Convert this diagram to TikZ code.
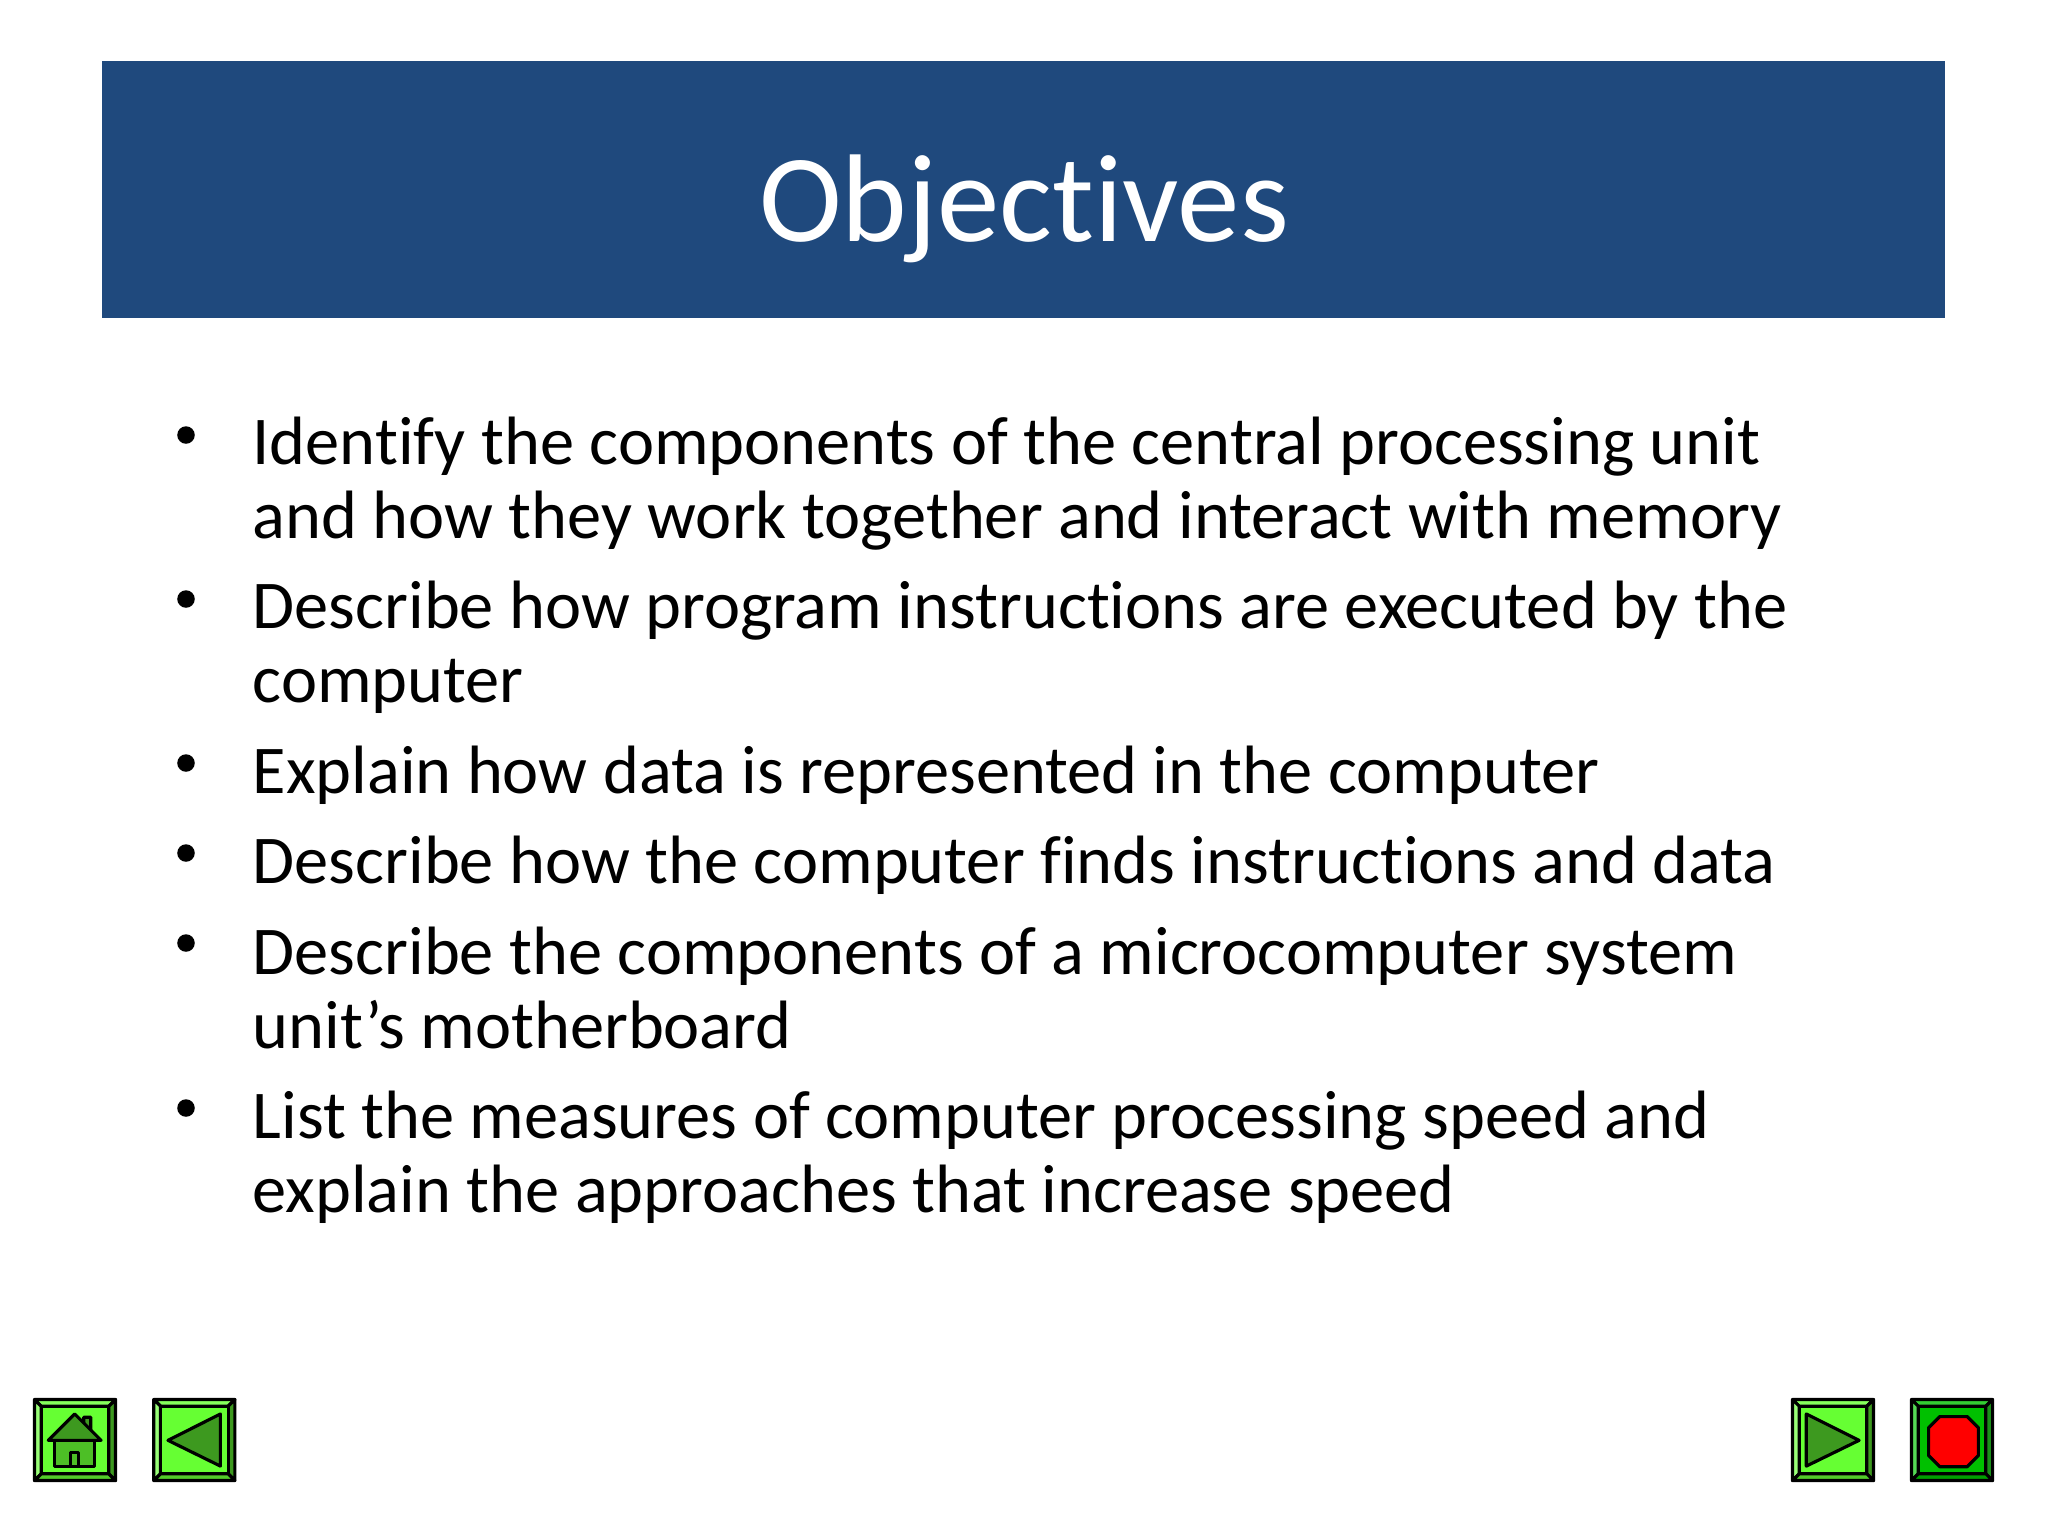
\documentclass[tikz,border=0pt]{standalone}
\usepackage{fontspec}
\setmainfont[Ligatures=NoCommon]{Carlito}
\usepackage{xcolor}
\definecolor{bannerblue}{HTML}{1F497D}
\definecolor{btnmain}{HTML}{66FF33}
\definecolor{btnlight}{HTML}{99FF77}
\definecolor{btntop}{HTML}{85FF5C}
\definecolor{btnbottom}{HTML}{52CC29}
\definecolor{btnright}{HTML}{3D991F}
\definecolor{housewall}{HTML}{4DBF26}
\definecolor{stopmain}{HTML}{00C000}
\definecolor{stoptop}{HTML}{33CD33}
\definecolor{stopleft}{HTML}{55D955}
\definecolor{stopright}{HTML}{1A8F1A}
\definecolor{stopbottom}{HTML}{00A000}
\newcommand{\navframe}[5]{%
    \draw[navline,fill=#2] (0,0) -- (84,0) -- (77,7) -- (7,7) -- cycle;
    \draw[navline,fill=#3] (0,0) -- (7,7) -- (7,77) -- (0,84) -- cycle;
    \draw[navline,fill=#4] (84,0) -- (84,84) -- (77,77) -- (77,7) -- cycle;
    \draw[navline,fill=#5] (0,84) -- (84,84) -- (77,77) -- (7,77) -- cycle;
    \draw[navline,fill=#1] (7,7) rectangle (77,77);
}
\tikzset{
    navline/.style={draw=black,line width=.9pt,line join=round},
    navbtn/.style={scale=.965},
    objline/.style={anchor=north west,align=left,inner sep=0pt,font=\fontsize{19.45}{21.2}\selectfont},
    objdot/.style={circle,fill=black,inner sep=0pt,minimum size=.175cm}
}
\begin{document}
\begin{tikzpicture}[x=.01cm,y=-.01cm]
    \useasboundingbox (0,0) rectangle (2048,1536);
    \fill[bannerblue] (102,61) rectangle (1945,318);
    \node[text=white,anchor=base,font=\fontsize{35.5}{43}\selectfont] (title) at (1024,241.5) {Objectives};
    % objectives
    \node[objline] (obja) at (252,416) {Identify the components of the central processing unit\\and how they work together and interact with memory};
    \node[objline] (objb) at (252,580) {Describe how program instructions are executed by the\\computer};
    \node[objline] (objc) at (252,745) {Explain how data is represented in the computer};
    \node[objline] (objd) at (252,835) {Describe how the computer finds instructions and data};
    \node[objline] (obje) at (252,926) {Describe the components of a microcomputer system\\unit’s motherboard};
    \node[objline] (objf) at (252,1090) {List the measures of computer processing speed and\\explain the approaches that increase speed};
    \node[objdot] (dota) at (186,435) {};
    \node[objdot] (dotb) at (186,599) {};
    \node[objdot] (dotc) at (186,763) {};
    \node[objdot] (dotd) at (186,853) {};
    \node[objdot] (dote) at (186,943) {};
    \node[objdot] (dotf) at (186,1108) {};
    % home
    \begin{scope}[shift={(34.5,1399.5)},navbtn]
        \navframe{btnmain}{btntop}{btnlight}{btnright}{btnbottom}
        \draw[navline,fill=btnright] (51,30) -- (51,18.3) -- (58.3,18.3) -- (58.3,36) -- cycle;
        \draw[navline,fill=housewall] (21,42.3) rectangle (62,69.7);
        \draw[navline,fill=btnright] (41.7,15) -- (69,42.3) -- (14.3,42.3) -- cycle;
        \draw[navline,fill=housewall] (37.7,55) rectangle (45.7,69.7);
    \end{scope}
    % back
    \begin{scope}[shift={(153.8,1399.5)},navbtn]
        \navframe{btnmain}{btntop}{btnlight}{btnright}{btnbottom}
        \draw[navline,fill=btnright] (14.7,42.3) -- (69,15) -- (69,69) -- cycle;
    \end{scope}
    % forward
    \begin{scope}[shift={(1792.5,1399.5)},navbtn]
        \navframe{btnmain}{btntop}{btnlight}{btnright}{btnbottom}
        \draw[navline,fill=btnright] (14.3,15) -- (69,42.3) -- (14.3,69) -- cycle;
    \end{scope}
    % stop
    \begin{scope}[shift={(1911.5,1399.5)},navbtn]
        \navframe{stopmain}{stoptop}{stopleft}{stopright}{stopbottom}
        \draw[navline,fill=red] (29.3,17.7) -- (57.7,17.7) -- (69.3,29.3) -- (69.3,58) -- (57.7,69.7) -- (29.3,69.7) -- (17.7,58) -- (17.7,29.3) -- cycle;
    \end{scope}
\end{tikzpicture}
\end{document}
